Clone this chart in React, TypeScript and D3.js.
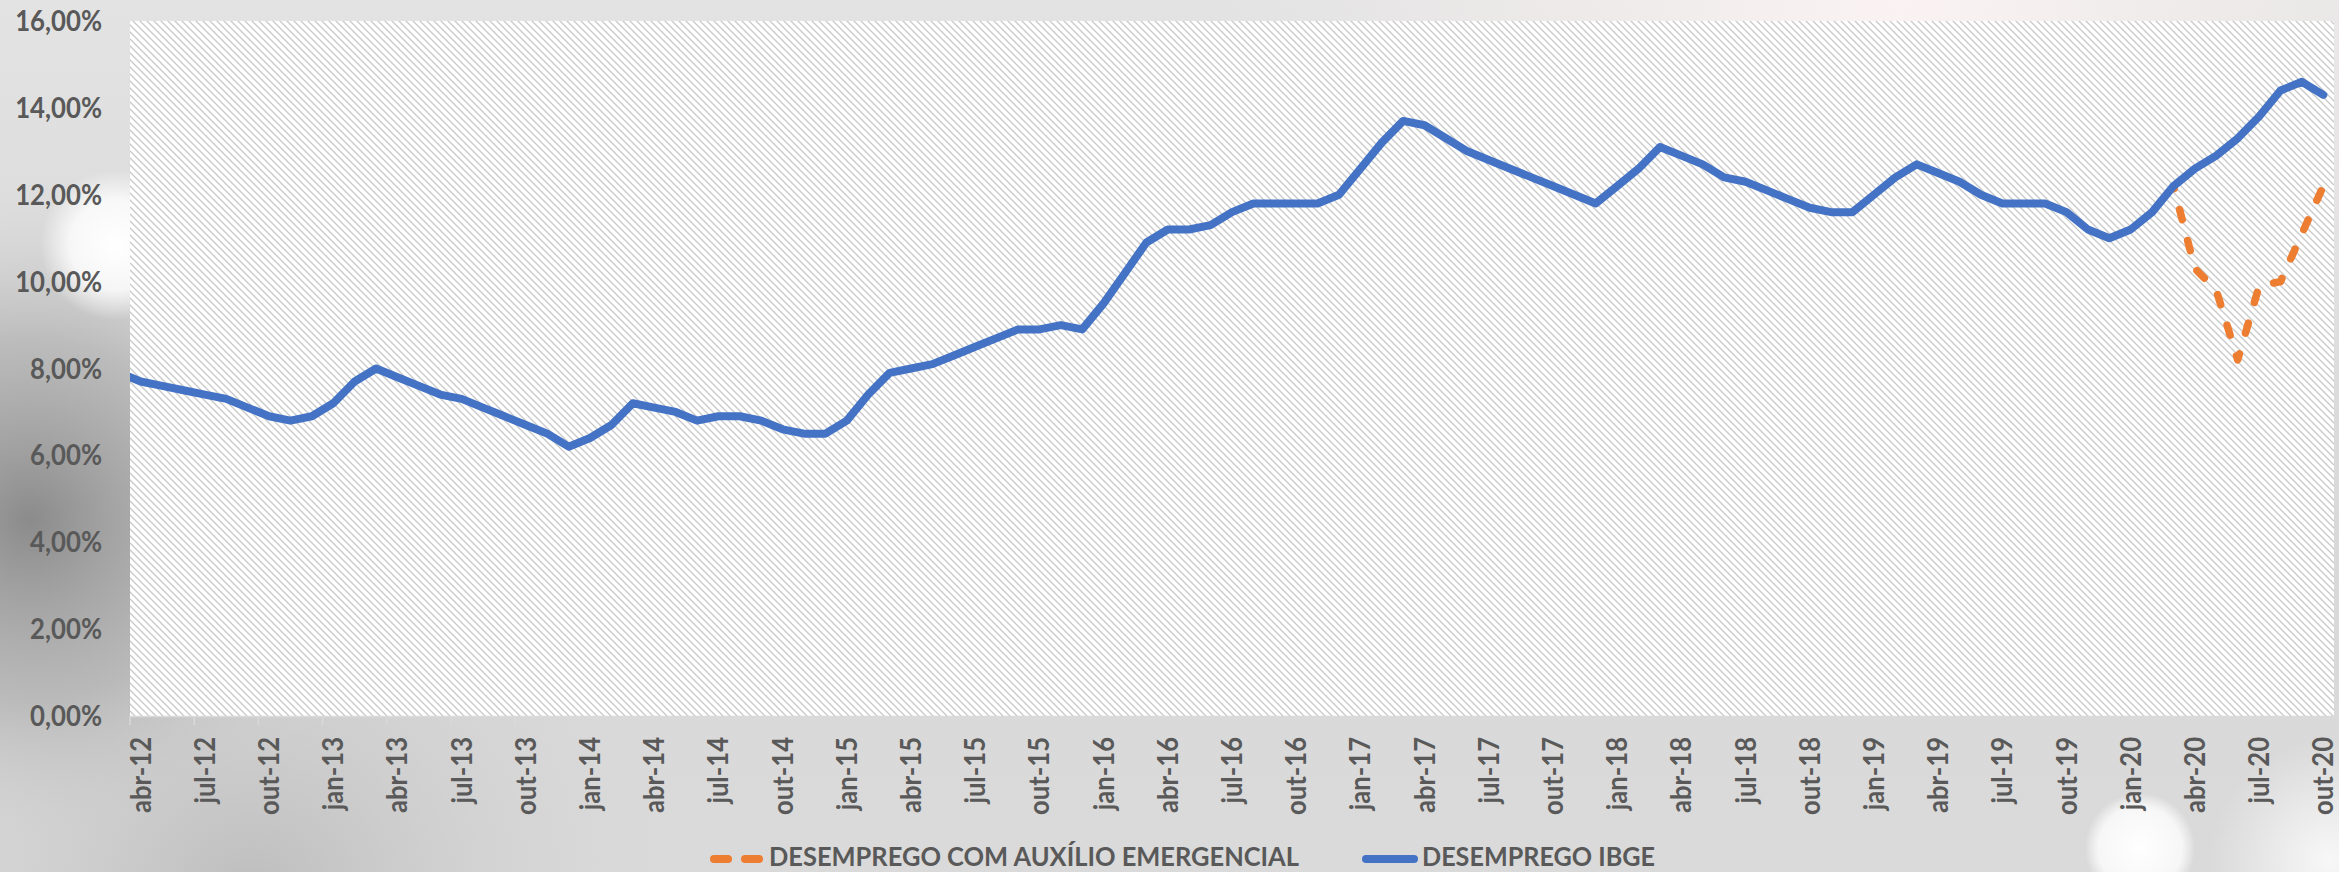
import React from 'react';
import * as d3 from 'd3';

const W = 2339;
const H = 872;

// Months: abr-12 .. out-20 (103 monthly slots)
const monthCount = 103;

// IBGE unemployment (%), abr-12 .. out-20
const leadValueMar12 = 7.9; // mar-12, only enters the plot at the left edge
const ibgeValues = [
  7.7, 7.6, 7.5, 7.4, 7.3, 7.1, 6.9, 6.8, 6.9,
  7.2, 7.7, 8.0, 7.8, 7.6, 7.4, 7.3, 7.1, 6.9, 6.7, 6.5, 6.2,
  6.4, 6.7, 7.2, 7.1, 7.0, 6.8, 6.9, 6.9, 6.8, 6.6, 6.5, 6.5,
  6.8, 7.4, 7.9, 8.0, 8.1, 8.3, 8.5, 8.7, 8.9, 8.9, 9.0, 8.9,
  9.5, 10.2, 10.9, 11.2, 11.2, 11.3, 11.6, 11.8, 11.8, 11.8, 11.8, 12.0,
  12.6, 13.2, 13.7, 13.6, 13.3, 13.0, 12.8, 12.6, 12.4, 12.2, 12.0, 11.8,
  12.2, 12.6, 13.1, 12.9, 12.7, 12.4, 12.3, 12.1, 11.9, 11.7, 11.6, 11.6,
  12.0, 12.4, 12.7, 12.5, 12.3, 12.0, 11.8, 11.8, 11.8, 11.6, 11.2, 11.0,
  11.2, 11.6, 12.2, 12.6, 12.9, 13.3, 13.8, 14.4, 14.6, 14.3,
];

// Unemployment with emergency aid (%), mar-20 .. out-20
const auxilioStartIndex = 95;
const auxilioValues = [12.2, 10.3, 9.8, 8.2, 9.9, 10.0, 11.1, 12.2];

const yTicks = [0, 2, 4, 6, 8, 10, 12, 14, 16];

const xTickLabels = [
  'abr-12', 'jul-12', 'out-12',
  'jan-13', 'abr-13', 'jul-13', 'out-13',
  'jan-14', 'abr-14', 'jul-14', 'out-14',
  'jan-15', 'abr-15', 'jul-15', 'out-15',
  'jan-16', 'abr-16', 'jul-16', 'out-16',
  'jan-17', 'abr-17', 'jul-17', 'out-17',
  'jan-18', 'abr-18', 'jul-18', 'out-18',
  'jan-19', 'abr-19', 'jul-19', 'out-19',
  'jan-20', 'abr-20', 'jul-20', 'out-20',
];

const legendItems = ['DESEMPREGO COM AUXÍLIO EMERGENCIAL', 'DESEMPREGO IBGE'];

const PLOT = { left: 130, right: 2334, top: 21, bottom: 716 };
const BLUE = '#4472C4';
const ORANGE = '#ED7D31';
const LABEL = '#595959';
const FONT = 'Lato, "Open Sans", sans-serif';

export default function App() {
  const x = d3.scaleLinear().domain([0, monthCount]).range([PLOT.left, PLOT.right]);
  const y = d3.scaleLinear().domain([0, 16]).range([PLOT.bottom, PLOT.top]);

  type P = { i: number; v: number };
  const bluePts: P[] = [{ i: -1, v: leadValueMar12 }, ...ibgeValues.map((v, i) => ({ i, v }))];
  const orangePts: P[] = auxilioValues.map((v, k) => ({ i: auxilioStartIndex + k, v }));

  const line = d3
    .line<P>()
    .x((d) => x(d.i + 0.5))
    .y((d) => y(d.v));

  const fmt = (v: number) => v.toFixed(2).replace('.', ',') + '%';

  return (
    <div style={{ position: 'absolute', left: 0, top: 0, width: W, height: H }}>
      <svg width={W} height={H} viewBox={`0 0 ${W} ${H}`} style={{ display: 'block' }}>
        <defs>
          <linearGradient id="bgBase" x1="0" y1="0" x2="0" y2="1">
            <stop offset="0" stopColor="#e3e3e3" />
            <stop offset="0.45" stopColor="#d8d8d8" />
            <stop offset="1" stopColor="#dadada" />
          </linearGradient>
          <radialGradient id="darkLeft" cx="30" cy="520" r="330" gradientUnits="userSpaceOnUse">
            <stop offset="0" stopColor="#7d7d7d" stopOpacity="0.85" />
            <stop offset="0.55" stopColor="#999999" stopOpacity="0.45" />
            <stop offset="1" stopColor="#cfcfcf" stopOpacity="0" />
          </radialGradient>
          <radialGradient id="darkBottomLeft" cx="250" cy="900" r="420" gradientUnits="userSpaceOnUse">
            <stop offset="0" stopColor="#b0b0b0" stopOpacity="0.7" />
            <stop offset="1" stopColor="#d0d0d0" stopOpacity="0" />
          </radialGradient>
          <radialGradient id="whiteBlob" cx="115" cy="245" r="75" gradientUnits="userSpaceOnUse">
            <stop offset="0" stopColor="#ffffff" stopOpacity="1" />
            <stop offset="0.6" stopColor="#ffffff" stopOpacity="0.8" />
            <stop offset="1" stopColor="#ffffff" stopOpacity="0" />
          </radialGradient>
          <radialGradient id="whiteBlob2" cx="2140" cy="848" r="55" gradientUnits="userSpaceOnUse">
            <stop offset="0" stopColor="#ffffff" stopOpacity="1" />
            <stop offset="0.75" stopColor="#fafafa" stopOpacity="0.9" />
            <stop offset="1" stopColor="#ffffff" stopOpacity="0" />
          </radialGradient>
          <radialGradient id="whiteBlob3" cx="2330" cy="860" r="120" gradientUnits="userSpaceOnUse">
            <stop offset="0" stopColor="#ffffff" stopOpacity="0.8" />
            <stop offset="1" stopColor="#ffffff" stopOpacity="0" />
          </radialGradient>
          <radialGradient id="pinkTop" cx="1900" cy="0" r="700" gradientUnits="userSpaceOnUse">
            <stop offset="0" stopColor="#fbf3f3" stopOpacity="1" />
            <stop offset="1" stopColor="#f3eded" stopOpacity="0" />
          </radialGradient>
          <pattern id="hatch" patternUnits="userSpaceOnUse" width="7" height="7">
            <rect width="7" height="7" fill="#ffffff" />
            <path d="M0,0 L7,7 M-1,6 L1,8 M6,-1 L8,1" stroke="#c9c9c9" strokeWidth="1.3" />
          </pattern>
          <clipPath id="plotClip">
            <rect x={PLOT.left} y={PLOT.top} width={PLOT.right - PLOT.left} height={PLOT.bottom - PLOT.top} />
          </clipPath>
        </defs>

        {/* background */}
        <rect x={0} y={0} width={W} height={H} fill="url(#bgBase)" />
        <rect x={0} y={0} width={W} height={H} fill="url(#darkBottomLeft)" />
        <rect x={0} y={0} width={W} height={H} fill="url(#darkLeft)" />
        <rect x={0} y={0} width={W} height={H} fill="url(#pinkTop)" />
        <rect x={0} y={0} width={W} height={H} fill="url(#whiteBlob)" />
        <rect x={0} y={0} width={W} height={H} fill="url(#whiteBlob2)" />
        <rect x={0} y={0} width={W} height={H} fill="url(#whiteBlob3)" />

        {/* plot area */}
        <rect
          x={PLOT.left}
          y={PLOT.top}
          width={PLOT.right - PLOT.left}
          height={PLOT.bottom - PLOT.top}
          fill="url(#hatch)"
        />

        {/* x axis line and ticks */}
        <line x1={PLOT.left} x2={PLOT.right} y1={PLOT.bottom + 0.5} y2={PLOT.bottom + 0.5} stroke="#d9d9d9" strokeWidth={1.5} />
        {xTickLabels.map((lab, k) => (
          <line
            key={'t' + lab}
            x1={x(k * 3)}
            x2={x(k * 3)}
            y1={PLOT.bottom}
            y2={PLOT.bottom + 9}
            stroke="#d9d9d9"
            strokeWidth={1.5}
          />
        ))}

        {/* y labels */}
        {yTicks.map((t) => (
          <g key={'y' + t} transform={`translate(102,${y(t)}) scale(0.92,1)`}>
            <text
              x={0}
              y={0}
              dy="0.36em"
              textAnchor="end"
              fontFamily={FONT}
              fontWeight={700}
              fontSize={28}
              fill={LABEL}
            >
              {fmt(t)}
            </text>
          </g>
        ))}

        {/* x labels */}
        {xTickLabels.map((lab, k) => (
          <g key={'x' + lab} transform={`translate(${x(k * 3 + 0.5) + 10},737) rotate(-90) scale(0.915,1)`}>
            <text x={0} y={0} textAnchor="end" fontFamily={FONT} fontWeight={700} fontSize={28} fill={LABEL}>
              {lab}
            </text>
          </g>
        ))}

        {/* series */}
        <g clipPath="url(#plotClip)">
          <path
            d={line(orangePts) || ''}
            fill="none"
            stroke={ORANGE}
            strokeWidth={7.5}
            strokeDasharray="10.5 21.5"
            strokeDashoffset={7.8}
            strokeLinecap="round"
            strokeLinejoin="round"
          />
          <path
            d={line(bluePts) || ''}
            fill="none"
            stroke={BLUE}
            strokeWidth={8}
            strokeLinecap="round"
            strokeLinejoin="round"
          />
        </g>

        {/* legend */}
        <line x1={714} x2={728} y1={859} y2={859} stroke={ORANGE} strokeWidth={8} strokeLinecap="round" />
        <line x1={745} x2={759} y1={859} y2={859} stroke={ORANGE} strokeWidth={8} strokeLinecap="round" />
        <text
          x={769}
          y={866}
          fontFamily={FONT}
          fontWeight={700}
          fontSize={27}
          fill={LABEL}
          textLength={530}
          lengthAdjust="spacingAndGlyphs"
        >
          {legendItems[0]}
        </text>
        <line x1={1366} x2={1414} y1={859} y2={859} stroke={BLUE} strokeWidth={8} strokeLinecap="round" />
        <text
          x={1422}
          y={866}
          fontFamily={FONT}
          fontWeight={700}
          fontSize={27}
          fill={LABEL}
          textLength={233}
          lengthAdjust="spacingAndGlyphs"
        >
          {legendItems[1]}
        </text>
      </svg>
    </div>
  );
}
